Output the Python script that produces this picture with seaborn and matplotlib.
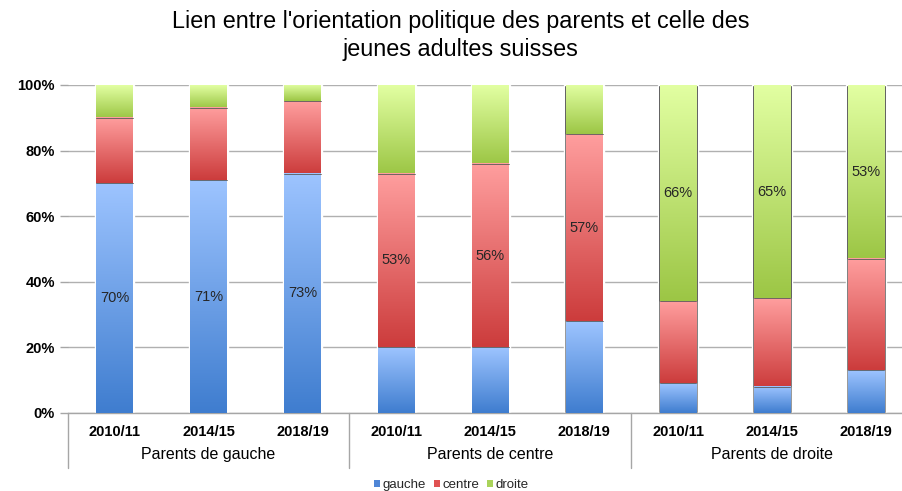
import numpy as np
import pandas as pd
import matplotlib
matplotlib.use("Agg")
import matplotlib.pyplot as plt
import matplotlib.transforms as mtransforms
from matplotlib.colors import to_rgb
from matplotlib.patches import Patch
import seaborn as sns

# ===================== data =====================
periods = ["2010/11", "2014/15", "2018/19"]
groups = ["Parents de gauche", "Parents de centre", "Parents de droite"]
series = ["gauche", "centre", "droite"]
gauche = [70, 71, 73, 20, 20, 28, 9, 8, 13]
centre = [20, 22, 22, 53, 56, 57, 25, 27, 34]
droite = [10, 7, 5, 27, 24, 15, 66, 65, 53]

# gradient colours (top -> bottom of each segment) and legend colours
grad = {
    "gauche": ("#9DC4FF", "#3F7DCF"),
    "centre": ("#FF9E9E", "#CC3C3C"),
    "droite": ("#E2FFA2", "#9CC645"),
}
legend_colors = {"gauche": "#4F86D6", "centre": "#E05252", "droite": "#A9D35A"}

sns.set_theme(style="white")
plt.rcParams["font.family"] = ["Liberation Sans", "DejaVu Sans"]

df = pd.DataFrame({
    "group": np.repeat(groups, len(periods)),
    "period": periods * len(groups),
    "gauche": gauche,
    "centre": centre,
    "droite": droite,
})
df["cat"] = df["group"] + " " + df["period"]
df["gauche_lo"] = 0
df["gauche_hi"] = df["gauche"]
df["centre_lo"] = df["gauche_hi"]
df["centre_hi"] = df["centre_lo"] + df["centre"]
df["droite_lo"] = df["centre_hi"]
df["droite_hi"] = df["droite_lo"] + df["droite"]
order = list(df["cat"])

fig = plt.figure(figsize=(9.03, 4.91), dpi=100)
ax = fig.add_axes([0.0748, 0.1589, 0.9363, 0.668])

# dark shadow behind each column
sns.barplot(data=df, x="cat", y="droite_hi", order=order, color="#111111",
            width=0.42, saturation=1, errorbar=None, ax=ax, zorder=2)

# stacked segments (top first), then gradient fill on each segment
for name in reversed(series):
    start = len(ax.patches)
    sns.barplot(data=df, x="cat", y=f"{name}_hi", order=order,
                color=legend_colors[name], width=0.39, saturation=1,
                errorbar=None, ax=ax, zorder=2.5)
    top, bot = np.array(to_rgb(grad[name][0])), np.array(to_rgb(grad[name][1]))
    t = np.linspace(0, 1, 128)[:, None, None]
    img = top * (1 - t) + bot * t
    for i, p in enumerate(ax.patches[start:]):
        lo = df[f"{name}_lo"].iloc[i]
        hi = p.get_height()
        ax.imshow(img, extent=(p.get_x(), p.get_x() + p.get_width(), lo, hi),
                  origin="upper", aspect="auto", zorder=3, interpolation="bilinear")
        # thin boundary line at bottom of the segment
        if lo > 0:
            ax.plot([p.get_x(), p.get_x() + p.get_width()], [lo, lo],
                    color="#5a5a5a", lw=0.6, zorder=3.5)

# value labels: the segment matching the parents' orientation
for i in range(len(df)):
    k = i // len(periods)
    name = series[k]
    lo, hi = df[f"{name}_lo"].iloc[i], df[f"{name}_hi"].iloc[i]
    ax.text(i, (lo + hi) / 2, f"{df[name].iloc[i]}%", ha="center", va="center",
            fontsize=10.5, color="#262626", zorder=5)

ax.set_xlim(-0.5, len(df) - 0.5)
ax.set_ylim(0, 100)
ax.set_yticks(range(0, 101, 20))
ax.set_yticklabels([f"{v}%" for v in range(0, 101, 20)], fontweight="bold", fontsize=10.5)
ax.set_xticks(range(len(df)))
ax.set_xticklabels(df["period"], fontweight="bold", fontsize=10.5)
ax.tick_params(axis="x", length=0, pad=9, colors="#000000")
ax.tick_params(axis="y", left=True, length=6, width=1, color="#A6A6A6", pad=3, labelcolor="#000000")
ax.set_xlabel("")
ax.set_ylabel("")

ax.yaxis.grid(True, color="#B0B0B0", lw=1)
ax.set_axisbelow(True)
for s in ["left", "right", "top"]:
    ax.spines[s].set_visible(False)
ax.spines["bottom"].set_color("#A6A6A6")
ax.spines["bottom"].set_linewidth(1)

# category table below the axis
trans = mtransforms.blended_transform_factory(ax.transData, ax.transAxes)
for xs in [-0.5, 2.5, 5.5, 8.5]:
    ax.plot([xs, xs], [0, -0.168], transform=trans, color="#A6A6A6", lw=1, clip_on=False)
for k, g in enumerate(groups):
    ax.text(k * len(periods) + 1, -0.128, g, transform=trans, ha="center", va="center",
            fontsize=11.5, color="#000000")

fig.text(0.51, 0.927, "Lien entre l'orientation politique des parents et celle des\njeunes adultes suisses",
         ha="center", va="center", fontsize=16.8, linespacing=1.28, color="#000000")

handles = [Patch(facecolor=legend_colors[n], edgecolor="none") for n in series]
fig.legend(handles, series, loc="center", bbox_to_anchor=(0.5, 1 - 485 / 491), ncol=3,
           frameon=False, fontsize=9.5, handlelength=0.45, handleheight=0.45,
           handletextpad=0.2, columnspacing=0.6, borderpad=0)

fig.savefig("out.png", dpi=100)
